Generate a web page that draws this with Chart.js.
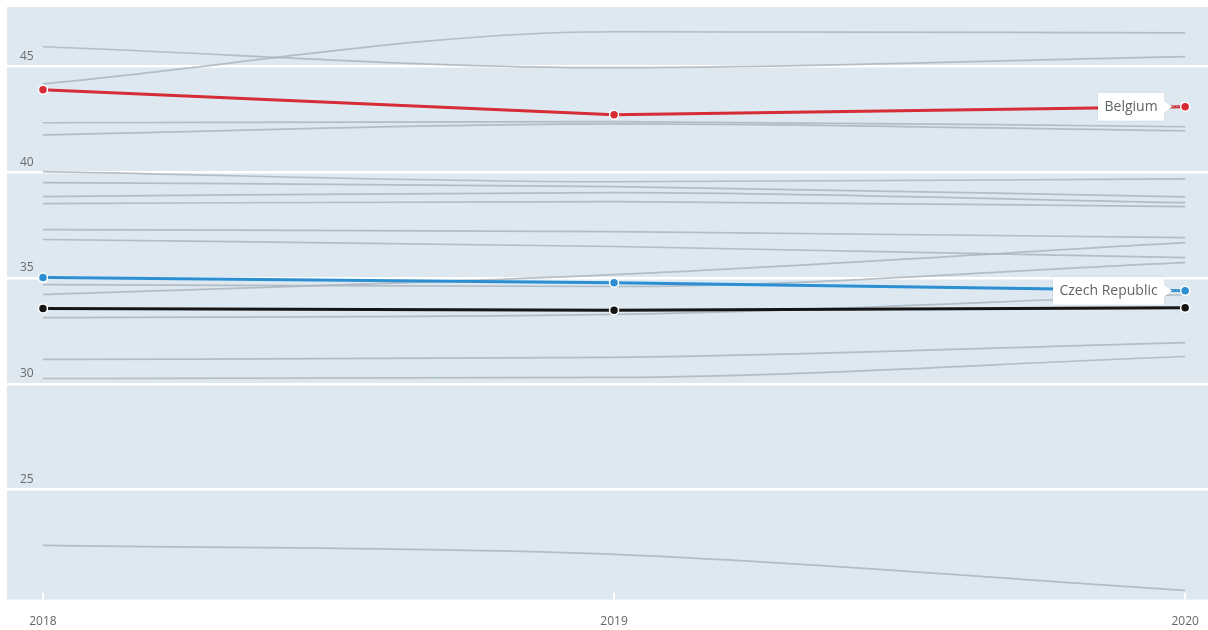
<!DOCTYPE html>
<html>
<head>
<meta charset="utf-8">
<script src="https://cdn.jsdelivr.net/npm/chart.js@4/dist/chart.umd.min.js"></script>
<style>
  html, body { margin: 0; padding: 0; background: #ffffff; overflow: hidden; }
  #wrap { width: 1208px; height: 630px; }
  #chart { display: block; width: 1208px; height: 630px; }
</style>
</head>
<body>
<div id="wrap"><canvas id="chart" width="1208" height="630"></canvas></div>
<script>
// Years on the horizontal axis
const years = [2018, 2019, 2020];
// Value axis ticks
const yTicks = [25, 30, 35, 40, 45];

// Highlighted series
const belgium = [43.90, 42.72, 43.10];
const czechRepublic = [35.02, 34.78, 34.40];
const average = [33.56, 33.48, 33.59];

// Remaining countries, drawn as grey context lines
const others = [
  [45.93, 44.94, 45.46],
  [44.18, 46.64, 46.59],
  [42.34, 42.39, 42.15],
  [41.77, 42.29, 41.96],
  [40.03, 39.55, 39.69],
  [39.51, 39.32, 38.84],
  [38.85, 39.04, 38.56],
  [38.52, 38.61, 38.37],
  [37.29, 37.19, 36.91],
  [36.82, 36.49, 35.96],
  [34.69, 34.60, 35.73],
  [34.22, 35.16, 36.67],
  [33.13, 33.28, 34.21],
  [31.15, 31.25, 31.95],
  [30.25, 30.30, 31.29],
  [22.36, 21.94, 20.24]
];

const toPoints = vals => years.map((yr, i) => ({ x: yr, y: vals[i] }));

const highlight = (label, vals, color) => ({
  label,
  data: toPoints(vals),
  borderColor: color,
  backgroundColor: color,
  borderWidth: 3,
  pointRadius: 4.5,
  pointBorderColor: '#ffffff',
  pointBorderWidth: 1.5,
  pointBackgroundColor: color,
  tension: 0
});

const datasets = [
  highlight('Belgium', belgium, '#d62c36'),
  highlight('Czech Republic', czechRepublic, '#2b8fd2'),
  highlight('', average, '#151515'),
  ...others.map(vals => ({
    label: '',
    data: toPoints(vals),
    borderColor: 'rgba(172,181,189,0.85)',
    borderWidth: 1.7,
    pointRadius: 0,
    cubicInterpolationMode: 'monotone'
  }))
];

// Plot-area background and small white ticks along the bottom edge
const plotBackground = {
  id: 'plotBackground',
  beforeDraw(chart) {
    const { ctx, chartArea: a, scales } = chart;
    ctx.save();
    ctx.fillStyle = '#dde8f0';
    ctx.fillRect(a.left, a.top, a.right - a.left, a.bottom - a.top);
    ctx.strokeStyle = '#ffffff';
    ctx.lineWidth = 2;
    years.forEach(yr => {
      const x = scales.x.getPixelForValue(yr);
      ctx.beginPath();
      ctx.moveTo(x, a.bottom - 7);
      ctx.lineTo(x, a.bottom);
      ctx.stroke();
    });
    ctx.restore();
  }
};

// Name tags attached to the last point of the highlighted series
const endTags = {
  id: 'endTags',
  afterDatasetsDraw(chart) {
    const { ctx } = chart;
    const tags = [
      { index: 0, text: 'Belgium' },
      { index: 1, text: 'Czech Republic' }
    ];
    ctx.save();
    ctx.font = '14px "Open Sans", sans-serif';
    tags.forEach(t => {
      const pt = chart.getDatasetMeta(t.index).data[years.length - 1];
      const px = pt.x, py = pt.y;
      const w = ctx.measureText(t.text).width + 13;
      const h = 28;
      const right = px - 21;
      const left = right - w;
      const top = py - h / 2;
      // dotted connector
      ctx.strokeStyle = 'rgba(150,160,170,0.9)';
      ctx.lineWidth = 1;
      ctx.setLineDash([2, 2]);
      ctx.beginPath();
      ctx.moveTo(right + 8, py);
      ctx.lineTo(px - 5, py);
      ctx.stroke();
      ctx.setLineDash([]);
      // box with pointer
      ctx.shadowColor = 'rgba(0,0,0,0.12)';
      ctx.shadowBlur = 2;
      ctx.fillStyle = '#ffffff';
      ctx.beginPath();
      ctx.moveTo(left, top);
      ctx.lineTo(right, top);
      ctx.lineTo(right, py - 6);
      ctx.lineTo(right + 8, py);
      ctx.lineTo(right, py + 6);
      ctx.lineTo(right, top + h);
      ctx.lineTo(left, top + h);
      ctx.closePath();
      ctx.fill();
      ctx.shadowColor = 'transparent';
      ctx.fillStyle = '#5f6468';
      ctx.textAlign = 'center';
      ctx.textBaseline = 'middle';
      ctx.fillText(t.text, (left + right) / 2, py);
    });
    ctx.restore();
  }
};

const noEdgePadding = s => {
  s.paddingLeft = 0;
  s.paddingRight = 0;
  s.paddingTop = 0;
  s.paddingBottom = 0;
};

new Chart(document.getElementById('chart'), {
  type: 'line',
  data: { datasets },
  plugins: [plotBackground, endTags],
  options: {
    responsive: false,
    animation: false,
    devicePixelRatio: 1,
    layout: { autoPadding: false, padding: { left: 7, top: 7, right: 0, bottom: -14 } },
    plugins: {
      legend: { display: false },
      tooltip: { enabled: false }
    },
    scales: {
      x: {
        type: 'linear',
        min: 2017.937,
        max: 2020.04,
        afterBuildTicks: s => { s.ticks = years.map(v => ({ value: v })); },
        afterFit: noEdgePadding,
        grid: { display: false, drawTicks: false },
        border: { display: false },
        ticks: {
          padding: 15,
          color: '#666',
          font: { family: '"Open Sans", sans-serif', size: 12 },
          callback: v => String(v)
        }
      },
      y: {
        min: 19.8,
        max: 47.81,
        afterBuildTicks: s => { s.ticks = yTicks.map(v => ({ value: v })); },
        afterFit: s => { noEdgePadding(s); s.width = 0; },
        grid: { color: '#ffffff', lineWidth: 2.5, drawTicks: false },
        border: { display: false },
        ticks: {
          mirror: true,
          padding: 13,
          labelOffset: -10,
          color: '#6b6b6b',
          font: { family: '"Open Sans", sans-serif', size: 12 }
        }
      }
    }
  }
});
</script>
</body>
</html>
